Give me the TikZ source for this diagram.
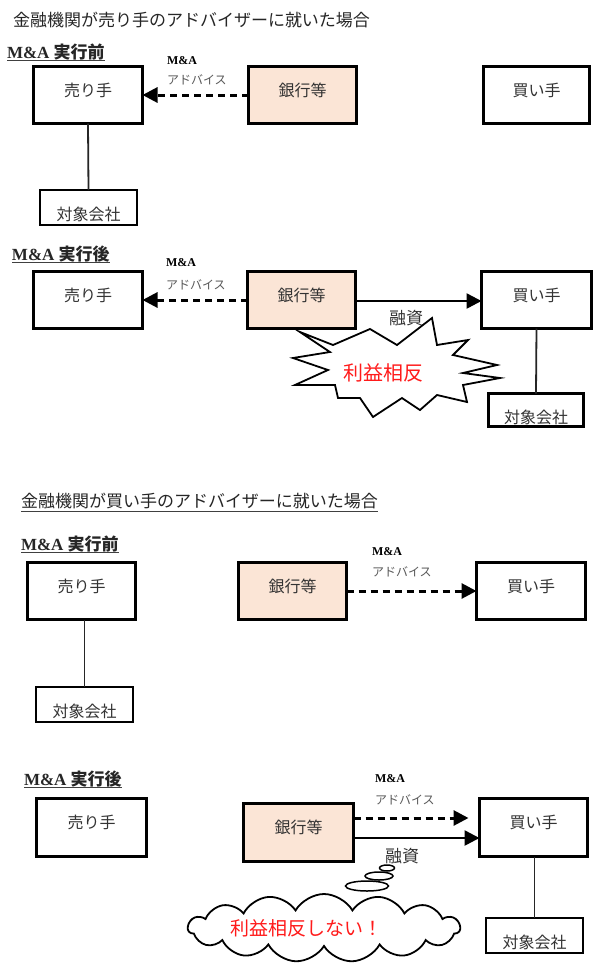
\documentclass[tikz,border=0pt]{standalone}
\usepackage{fontspec}
\setmainfont{Liberation Serif}
\newfontfamily\jp{Noto Sans CJK JP}
\usetikzlibrary{arrows.meta,shapes.symbols,shapes.geometric}
\definecolor{peach}{HTML}{FBE5D6}
\definecolor{txt}{HTML}{333333}
\definecolor{redtxt}{HTML}{FF1A1A}
\newcommand\boxup[1]{\raisebox{5pt}[\height][\depth]{#1}}
\newcommand\boxdown[1]{\raisebox{-7pt}[\height][\depth]{#1}}
\begin{document}
\begin{tikzpicture}[x=1pt,y=-1pt,
  every node/.style={inner sep=0pt,outer sep=0pt},
  box/.style={draw=black,line width=2.6pt,rectangle,minimum width=110pt,minimum height=58pt,
    text=txt,font=\jp\fontsize{16}{18}\selectfont},
  bank/.style={box,fill=peach},
  tbox/.style={draw=black,line width=2.6pt,rectangle,minimum width=97pt,minimum height=35pt,
    text=txt,font=\jp\fontsize{16}{18}\selectfont},
  link/.style={line width=1.8pt,draw=black!85},
  adv/.style={line width=3pt,dash pattern=on 7pt off 5pt,-{Triangle[length=15pt,width=15pt]}},
  loan/.style={line width=2.6pt,-{Triangle[length=15pt,width=15pt]}},
  title/.style={anchor=west,text=black!85,font=\jp\fontsize{17}{20}\selectfont},
  hdr/.style={anchor=base west,text=black!85,font=\bfseries\fontsize{17}{20}\selectfont},
  uline/.style={line width=1.5pt,draw=black!75},
  mna/.style={anchor=west,font=\bfseries\fontsize{12}{14}\selectfont},
  advtxt/.style={anchor=west,text=black!65,font=\jp\fontsize{12}{14}\selectfont},
  small/.style={text=txt,font=\jp\fontsize{17}{20}\selectfont},
  redt/.style={text=redtxt,font=\jp\fontsize{20}{22}\selectfont},
  bubble/.style={ellipse,draw=black,line width=1.5pt,fill=white}
]
\useasboundingbox (0,0) rectangle (600,975);
\fill[white] (0,0) rectangle (600,975);

% ===== Section 1 =====
\node[title] (t1) at (13,20) {金融機関が売り手のアドバイザーに就いた場合};
\node[hdr] (h1) at (7,58) {M\&A {\jp 実行前}};
\draw[uline] ([yshift=-2.5pt]h1.base west) -- ([yshift=-2.5pt]h1.base east);

\node[box,minimum width=109pt,minimum height=57pt] (s1a) at (88,95) {\boxup{売り手}};
\node[bank,minimum width=108pt,minimum height=57pt] (s1b) at (302.5,95) {\boxup{銀行等}};
\node[box,minimum width=106pt,minimum height=57pt] (s1c) at (536.5,95) {\boxup{買い手}};
\node[tbox] (s1t) at (88.5,207.5) {\boxdown{対象会社}};
\draw[link] (s1a.south) -- (s1t.north);
\draw[adv] (s1b.west) -- (s1a.east);
\node[mna] (m1) at (167,61) {M\&A};
\node[advtxt] (a1) at (167,80) {アドバイス};

% ===== Section 2 =====
\node[hdr] (h2) at (12,260) {M\&A {\jp 実行後}};
\draw[uline] ([yshift=-2.5pt]h2.base west) -- ([yshift=-2.5pt]h2.base east);

\node[box,minimum width=109pt,minimum height=57pt] (s2a) at (88,300) {\boxup{売り手}};
\node[bank,minimum width=108pt,minimum height=57pt] (s2b) at (301.5,300) {\boxup{銀行等}};
\node[box,minimum width=110pt,minimum height=57pt] (s2c) at (536.5,300) {\boxup{買い手}};
\node[tbox,minimum width=95pt,minimum height=33pt] (s2t) at (536,410) {\boxdown{対象会社}};
\draw[link] (s2c.south) -- (s2t.north);
\draw[adv] (s2b.west) -- (s2a.east);
\draw[loan] ([yshift=-1pt]s2b.east) -- ([yshift=-1pt]s2c.west);
\node[mna] (m2) at (166,263) {M\&A};
\node[advtxt] (a2) at (166,285) {アドバイス};
\node[small] (y2) at (406,318) {融資};

\draw[line width=1.8pt,fill=white,line join=miter] (300,332) -- (333,345) -- (370,329) -- (397,345) -- (432,318)
  -- (437,345) -- (468,340) -- (453,355) -- (497,365) -- (463,373) -- (500,378) -- (463,385)
  -- (467,402) -- (437,395) -- (420,410) -- (402,398) -- (373,417) -- (360,398) -- (338,398)
  -- (335,385) -- (295,385) -- (328,370) -- (293,358) -- (330,352) -- cycle;
\node[redt] (burst) at (383,373) {利益相反};

% ===== Section 3 =====
\node[title] (t2) at (21,501) {金融機関が買い手のアドバイザーに就いた場合};
\draw[uline] ([yshift=-10.5pt]t2.west) -- ([yshift=-10.5pt]t2.east);
\node[hdr] (h3) at (21,550) {M\&A {\jp 実行前}};
\draw[uline] ([yshift=-2.5pt]h3.base west) -- ([yshift=-2.5pt]h3.base east);

\node[box,minimum width=108pt,minimum height=57pt] (s3a) at (81.5,591) {\boxup{売り手}};
\node[bank,minimum width=108pt,minimum height=57pt] (s3b) at (292.5,591) {\boxup{銀行等}};
\node[box,minimum width=109pt,minimum height=57pt] (s3c) at (531,591) {\boxup{買い手}};
\node[tbox] (s3t) at (84.5,704.5) {\boxdown{対象会社}};
\draw[link] (s3t.north) -- (s3t.north |- s3a.south);
\draw[adv] (s3b.east) -- (s3c.west);
\node[mna] (m3) at (372,552) {M\&A};
\node[advtxt] (a3) at (372,572) {アドバイス};

% ===== Section 4 =====
\node[hdr] (h4) at (24,785) {M\&A {\jp 実行後}};
\draw[uline] ([yshift=-2.5pt]h4.base west) -- ([yshift=-2.5pt]h4.base east);

\node[box,minimum width=110pt,minimum height=58pt] (s4a) at (91.5,827.5) {\boxup{売り手}};
\node[bank,minimum width=110pt,minimum height=58pt] (s4b) at (298.5,832.5) {\boxup{銀行等}};
\node[box,minimum width=108pt,minimum height=58pt] (s4c) at (533.5,827.5) {\boxup{買い手}};
\node[tbox] (s4t) at (534.5,935.5) {\boxdown{対象会社}};
\draw[link] (s4t.north) -- (s4t.north |- s4c.south);
\draw[adv] ([yshift=14.5pt]s4b.east) -- ([xshift=-11pt,yshift=9.5pt]s4c.west);
\draw[loan] ([yshift=-5.5pt]s4b.east) -- ([yshift=-10.5pt]s4c.west);
\node[mna] (m4) at (375,779) {M\&A};
\node[advtxt] (a4) at (375,800) {アドバイス};
\node[small] (y4) at (402,856) {融資};

\node[cloud,draw=black,line width=1.8pt,fill=white,cloud puffs=15,cloud puff arc=120,
  cloud ignores aspect,minimum width=272pt,minimum height=68pt] (cloud) at (324,928) {};
\node[bubble,minimum width=43pt,minimum height=10pt] (b3) at (367,886) {};
\node[bubble,minimum width=28pt,minimum height=8pt] (b2) at (379,876) {};
\node[bubble,minimum width=15pt,minimum height=6pt] (b1) at (387,868) {};
\node[redt,font=\jp\fontsize{19}{21}\selectfont] (ctxt) at (306,928) {利益相反しない！};
\end{tikzpicture}
\end{document}
